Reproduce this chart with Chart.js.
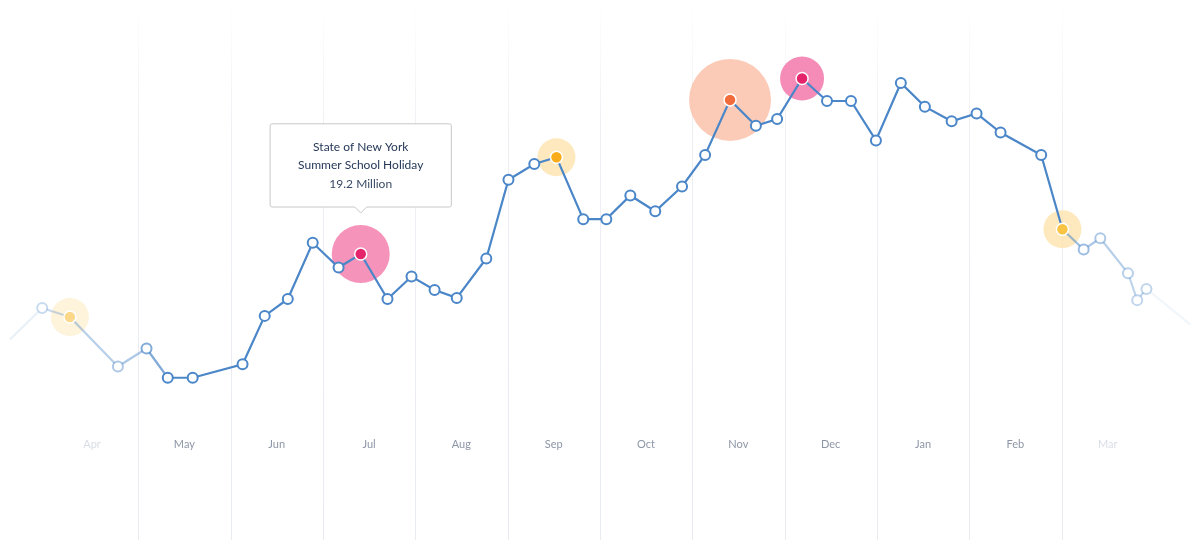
<!DOCTYPE html>
<html><head><meta charset="utf-8">
<script src="https://cdn.jsdelivr.net/npm/chart.js@4.4.0/dist/chart.umd.min.js"></script>
<style>html,body{margin:0;padding:0;background:#fff}#w{width:1200px;height:540px}</style>
</head><body><div id="w"><canvas id="c"></canvas></div>
<script>
const monthLabels=["Apr","May","Jun","Jul","Aug","Sep","Oct","Nov","Dec","Jan","Feb","Mar"];
const xPos=[-0.89,-0.54,-0.24,0.28,0.59,0.82,1.09,1.63,1.87,2.12,2.39,2.67,2.91,3.20,3.46,3.71,3.95,4.27,4.51,4.79,5.03,5.32,5.57,5.83,6.10,6.39,6.64,6.91,7.19,7.42,7.69,7.96,8.22,8.49,8.76,9.02,9.31,9.58,9.84,10.28,10.51,10.74,10.92,11.22,11.32,11.42,11.90];
const values=[11.6,14.4,13.6,9.2,10.8,8.2,8.2,9.4,13.7,15.2,20.2,18.0,19.2,15.2,17.2,16.0,15.3,18.8,25.8,27.2,27.8,22.3,22.3,24.4,23.0,25.2,28.0,32.9,30.6,31.2,34.8,32.8,32.8,29.3,34.4,32.3,31.0,31.7,30.0,28.0,21.4,19.6,20.6,17.5,15.1,16.1,12.9];
const alphas=[0.12,0.3,0.4,0.45,0.7,1,1,1,1,1,1,1,1,1,1,1,1,1,1,1,1,1,1,1,1,1,1,1,1,1,1,1,1,1,1,1,1,1,1,1,1,0.55,0.45,0.4,0.35,0.35,0.08];
const highlightIdx=[2,12,20,27,30,40];
const highlightCore=["#fbd88a","#e6246b","#f9ad1b","#f26b3a","#e6246b","#f9c344"];
const highlightHalo=["rgba(253,232,184,0.5)","rgba(242,120,170,0.8)","rgba(253,226,170,0.75)","rgba(251,190,165,0.8)","rgba(242,120,170,0.85)","rgba(253,226,170,0.75)"];
const highlightR=[19,29,19,41,22,19];
const tipTitle=["State of New York","Summer School Holiday"];
const tipBody="19.2 Million";

const blue=a=>`rgba(74,134,200,${a})`;
const pts=xPos.map((x,i)=>({x,y:values[i]}));
const ptR=xPos.map((x,i)=>(i===0||i===46)?0:5);
const ptBorder=alphas.map((a,i)=>highlightIdx.includes(i)?"#fff":blue(a));
const ptFill=alphas.map((a,i)=>{const k=highlightIdx.indexOf(i);return k>=0?highlightCore[k]:"#fff";});
const ptBW=alphas.map((a,i)=>highlightIdx.includes(i)?1.5:2);
const ptRadius=ptR.map((r,i)=>highlightIdx.includes(i)?6:r);

const gridPlugin={id:'g',beforeDatasetsDraw(ch){
  const c=ch.ctx,xs=ch.scales.x;c.save();
  for(let i=0;i<11;i++){const px=Math.round(xs.getPixelForValue(i+0.5))+0.5;
    const g=c.createLinearGradient(0,0,0,540);g.addColorStop(0,'rgba(232,235,240,0)');g.addColorStop(0.25,'rgba(232,235,240,0.8)');g.addColorStop(1,'rgba(232,235,240,1)');
    c.strokeStyle=g;c.lineWidth=1;c.beginPath();c.moveTo(px,0);c.lineTo(px,540);c.stroke();}
  c.restore();}};

const ch=new Chart(document.getElementById('c'),{
  data:{datasets:[
   {type:'line',data:pts,borderWidth:2.2,tension:0,clip:false,
    segment:{borderColor:ctx=>blue(Math.min(alphas[ctx.p0DataIndex],alphas[ctx.p1DataIndex]))},
    pointRadius:ptRadius,pointHoverRadius:ptRadius,pointBackgroundColor:ptFill,pointHoverBackgroundColor:ptFill,
    pointBorderColor:ptBorder,pointHoverBorderColor:ptBorder,pointBorderWidth:ptBW,pointHoverBorderWidth:ptBW,order:1},
   {type:'scatter',data:highlightIdx.map(i=>pts[i]),pointRadius:highlightR,pointHoverRadius:highlightR,clip:false,
    backgroundColor:highlightHalo,hoverBackgroundColor:highlightHalo,borderWidth:0,order:2}
  ]},
  options:{responsive:true,maintainAspectRatio:false,animation:false,events:[],
   layout:{padding:0,autoPadding:false},
   scales:{
    x:{type:'linear',min:-0.997,max:12.0,grid:{display:false},border:{display:false},
      afterFit(s){s.height=115;},
      afterBuildTicks(s){s.ticks=monthLabels.map((m,i)=>({value:i}));},
      ticks:{padding:5,autoSkip:false,maxRotation:0,font:{family:'Lato',size:11},
        color:c=>(c.index===0||c.index===11)?'#d9dee6':'#8d96a6',
        callback:(v)=>monthLabels[Math.round(v)]}},
    y:{display:false,min:4.0,max:41.78}},
   plugins:{legend:{display:false},
    tooltip:{enabled:true,filter:it=>it.datasetIndex===0,backgroundColor:'#fff',borderColor:'#c8c8c8',borderWidth:1,
     cornerRadius:2,displayColors:false,caretSize:6,caretPadding:41,xAlign:'center',yAlign:'bottom',
     padding:{top:16,bottom:16,left:28,right:28},titleAlign:'center',bodyAlign:'center',
     titleColor:'#253858',bodyColor:'#3a4a66',titleFont:{family:'Lato',size:12,weight:'normal'},bodyFont:{family:'Lato',size:12},
     titleSpacing:4,titleMarginBottom:4,
     callbacks:{title:()=>tipTitle,label:()=>tipBody}}}},
  plugins:[gridPlugin]});
const m=ch.getDatasetMeta(0).data[12];
ch.tooltip.setActiveElements([{datasetIndex:0,index:12}],{x:m.x,y:m.y});
ch.update('none');
</script></body></html>
